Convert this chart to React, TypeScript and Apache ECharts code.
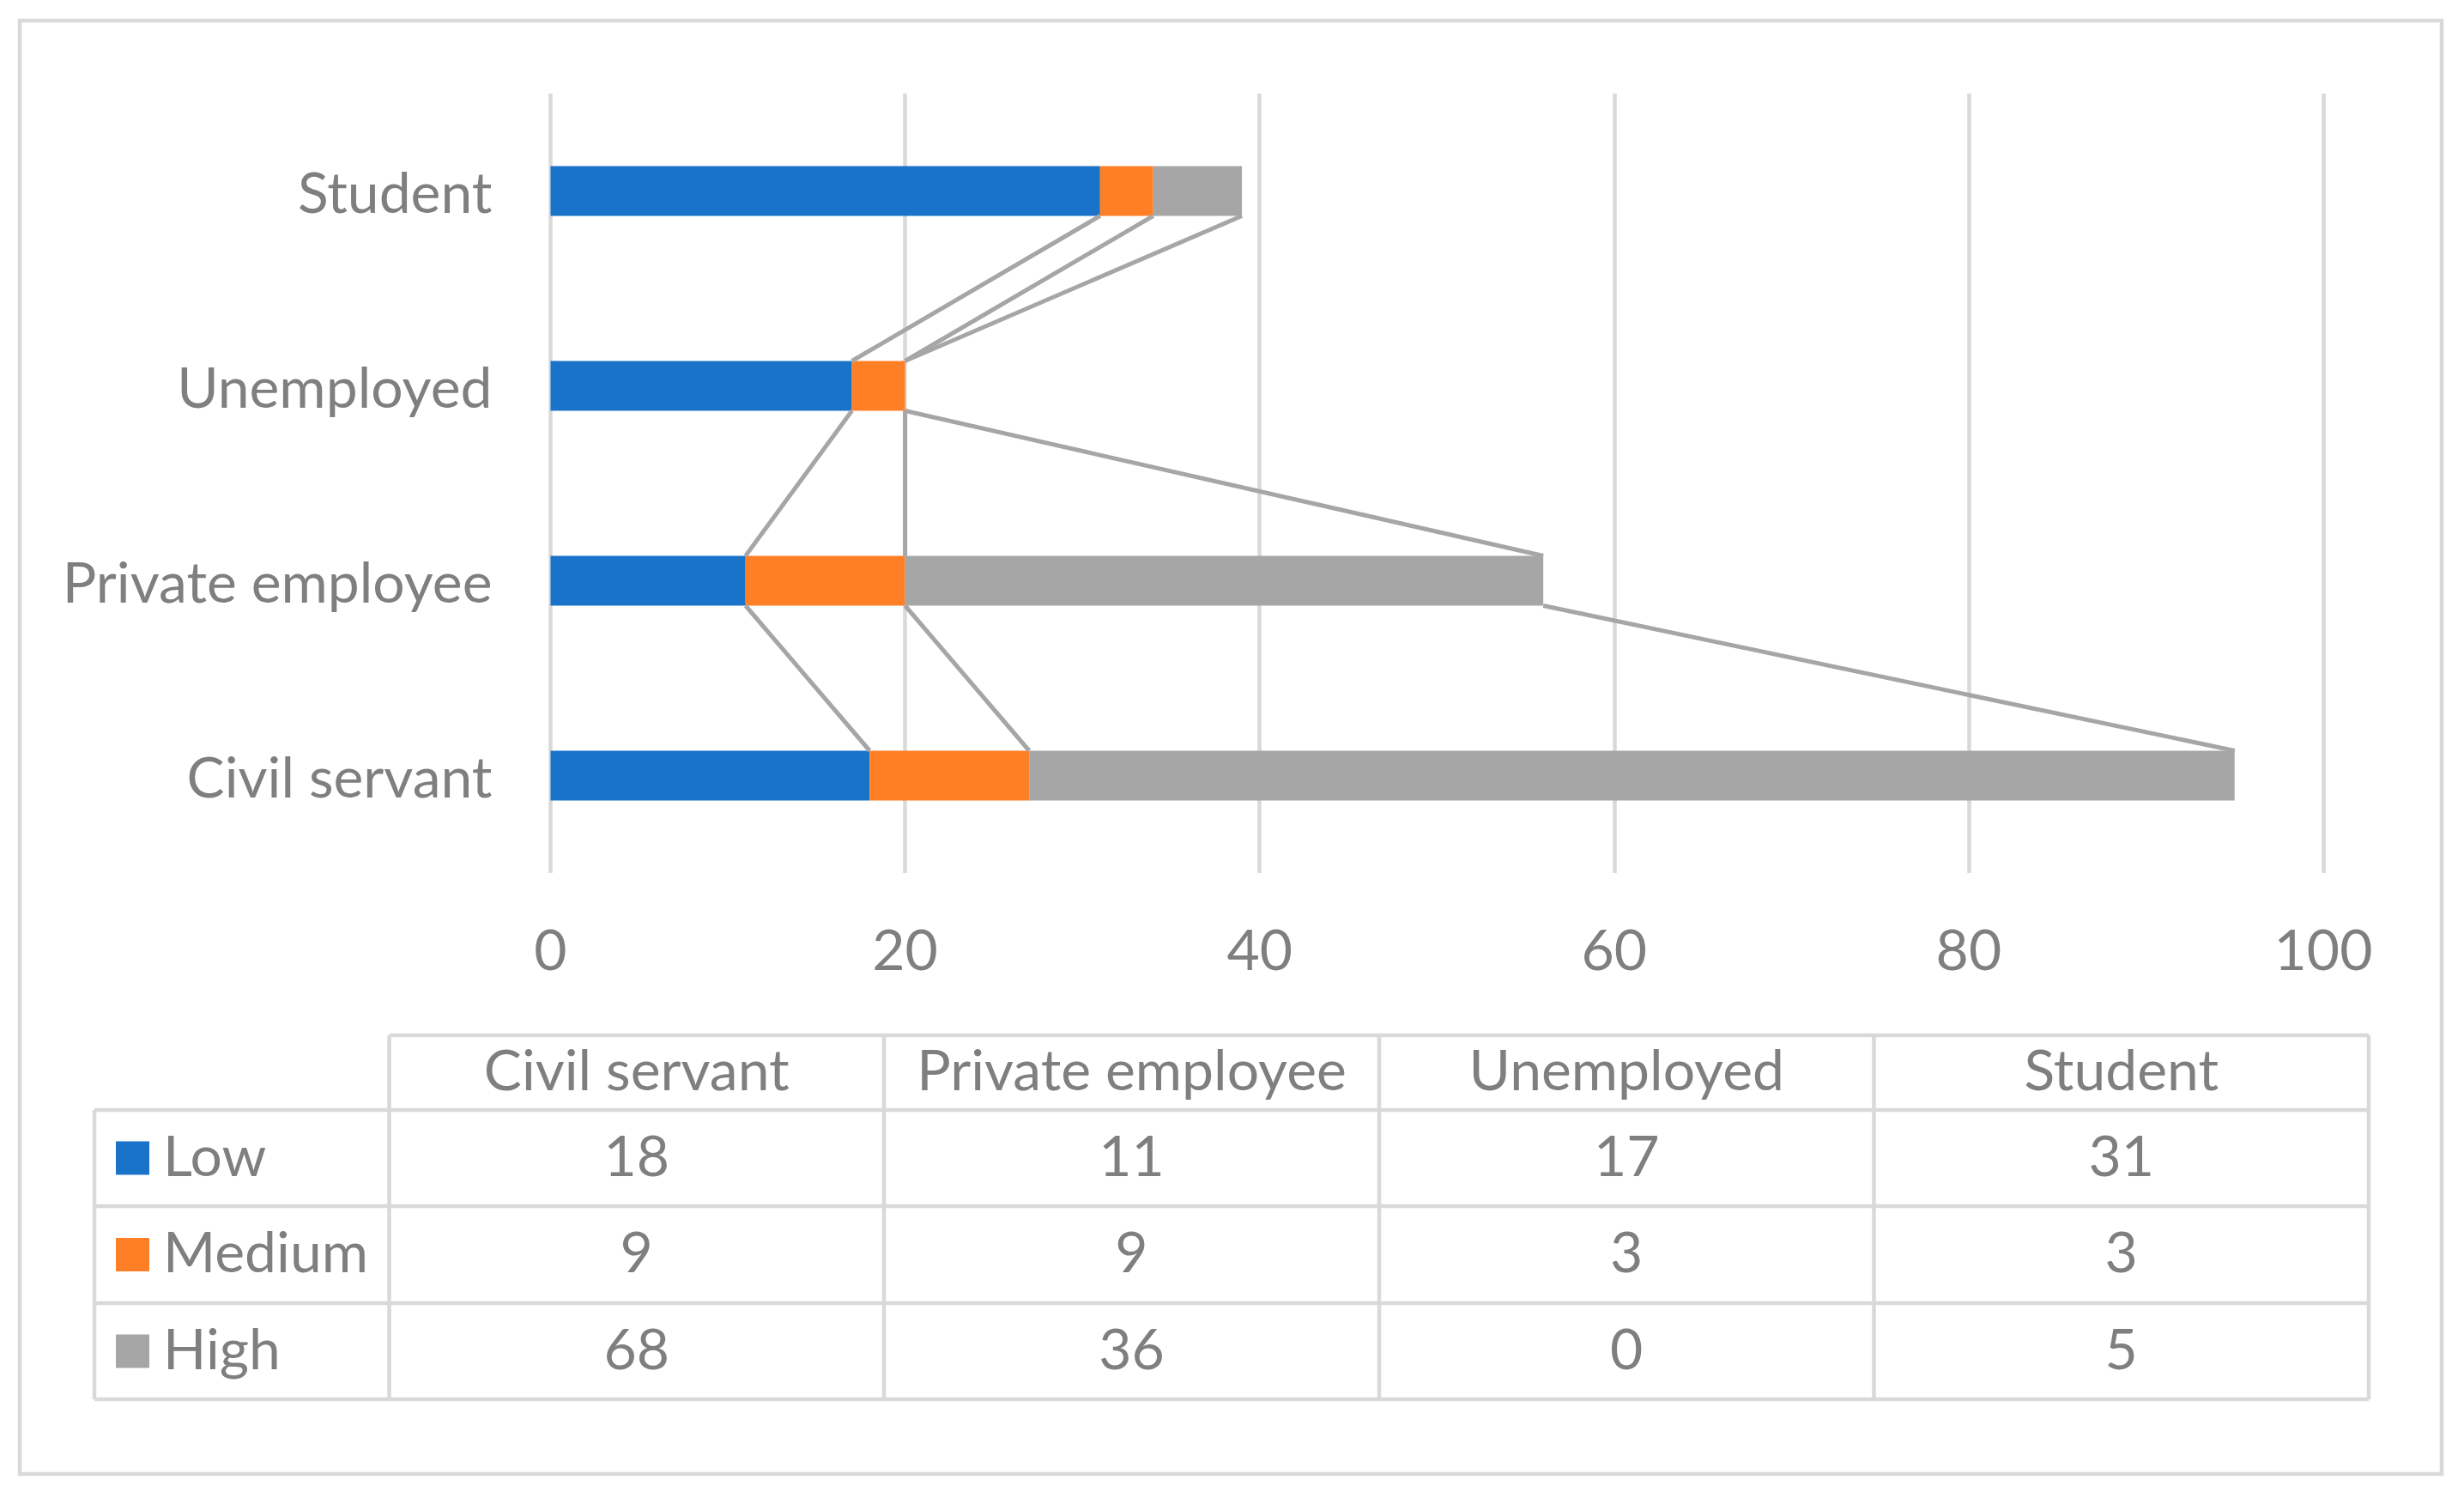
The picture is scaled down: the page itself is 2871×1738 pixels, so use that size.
import React, { useEffect, useRef } from "react";
import * as echarts from "echarts";

const categories = ["Civil servant", "Private employee", "Unemployed", "Student"];
const seriesNames = ["Low", "Medium", "High"];
const lowValues = [18, 11, 17, 31];
const mediumValues = [9, 9, 3, 3];
const highValues = [68, 36, 0, 5];
const seriesColors = ["#1873C9", "#FE7F26", "#A6A6A6"];

const FONT = "Lato, 'Open Sans', sans-serif";
const TEXT_COLOR = "#7F7F7F";
const LINE_COLOR = "#D9D9D9";
const FONT_SIZE = 66;
const BAR_W = 58;
const TEXT_DY = -5;

export default function App() {
  const ref = useRef<HTMLDivElement>(null);
  useEffect(() => {
    if (!ref.current) return;
    const chart = echarts.init(ref.current, undefined, { renderer: "svg" });
    const allSeries = [lowValues, mediumValues, highValues];

    // cumulative ends for series lines
    const cum: number[][] = allSeries.map((_, s) =>
      categories.map((__, c) => {
        let t = 0;
        for (let k = 0; k <= s; k++) t += allSeries[k][c];
        return t;
      })
    );
    const seriesLineData: number[][] = [];
    for (let i = 0; i < categories.length - 1; i++) {
      for (let s = 0; s < seriesNames.length; s++) {
        seriesLineData.push([cum[s][i + 1], i + 1, cum[s][i], i]);
      }
    }

    // table layout
    const colX = [453.5, 1030, 1607, 2183.5, 2760];
    const rowY = [1206, 1293, 1405, 1518, 1630];
    const leftX = 110;
    const graphics: any[] = [];
    graphics.push({
      type: "rect",
      shape: { x: 23, y: 24, width: 2822, height: 1693 },
      style: { fill: "none", stroke: LINE_COLOR, lineWidth: 4.5 },
      silent: true,
    });
    const hl = (x1: number, x2: number, y: number) =>
      graphics.push({ type: "line", shape: { x1, y1: y, x2, y2: y }, style: { stroke: LINE_COLOR, lineWidth: 4.5 } });
    const vl = (x: number, y1: number, y2: number) =>
      graphics.push({ type: "line", shape: { x1: x, y1, x2: x, y2 }, style: { stroke: LINE_COLOR, lineWidth: 4.5 } });
    hl(colX[0], colX[4], rowY[0]);
    for (let r = 1; r < rowY.length; r++) hl(leftX, colX[4], rowY[r]);
    vl(leftX, rowY[1], rowY[4]);
    colX.forEach((x) => vl(x, rowY[0], rowY[4]));
    categories.forEach((c, i) => {
      graphics.push({
        type: "text",
        x: (colX[i] + colX[i + 1]) / 2,
        y: (rowY[0] + rowY[1]) / 2 + TEXT_DY,
        style: { text: c, fill: TEXT_COLOR, font: `${FONT_SIZE}px ${FONT}`, textAlign: "center", textVerticalAlign: "middle" },
      });
    });
    seriesNames.forEach((n, s) => {
      const cy = (rowY[s + 1] + rowY[s + 2]) / 2;
      graphics.push({
        type: "rect",
        shape: { x: 135, y: cy - 19.5, width: 39, height: 39 },
        style: { fill: seriesColors[s] },
      });
      graphics.push({
        type: "text",
        x: 190,
        y: cy + TEXT_DY,
        style: { text: n, fill: TEXT_COLOR, font: `${FONT_SIZE}px ${FONT}`, textAlign: "left", textVerticalAlign: "middle" },
      });
      allSeries[s].forEach((v, i) => {
        graphics.push({
          type: "text",
          x: (colX[i] + colX[i + 1]) / 2,
          y: cy + TEXT_DY,
          style: { text: String(v), fill: TEXT_COLOR, font: `${FONT_SIZE}px ${FONT}`, textAlign: "center", textVerticalAlign: "middle" },
        });
      });
    });

    chart.setOption({
      animation: false,
      backgroundColor: "#FFFFFF",
      grid: { left: 641.5, right: 2871 - 2707, top: 109, bottom: 1738 - 1017, containLabel: false },
      xAxis: {
        type: "value",
        min: 0,
        max: 100,
        interval: 20,
        axisLine: { show: false },
        axisTick: { show: false },
        splitLine: { show: true, lineStyle: { color: LINE_COLOR, width: 4.5 } },
        axisLabel: { color: TEXT_COLOR, fontSize: FONT_SIZE, fontFamily: FONT, margin: 54 },
      },
      yAxis: {
        type: "category",
        data: categories,
        axisLine: { show: false },
        axisTick: { show: false },
        axisLabel: {
          color: TEXT_COLOR,
          fontSize: FONT_SIZE,
          fontFamily: FONT,
          margin: 68,
          lineHeight: 66,
          padding: [0, 0, 14, 0],
        },
      },
      series: [
        ...seriesNames.map((n, s) => ({
          name: n,
          type: "bar",
          stack: "total",
          barWidth: BAR_W,
          data: allSeries[s],
          itemStyle: { color: seriesColors[s] },
        })),
        {
          type: "custom",
          coordinateSystem: "cartesian2d",
          encode: { x: [0, 2], y: [1, 3] },
          data: seriesLineData,
          z: 5,
          renderItem: (params: any, api: any) => {
            const a = api.coord([api.value(0), api.value(1)]);
            const b = api.coord([api.value(2), api.value(3)]);
            return {
              type: "line",
              shape: { x1: a[0], y1: a[1] + BAR_W / 2, x2: b[0], y2: b[1] - BAR_W / 2 },
              style: { stroke: "#A6A6A6", lineWidth: 5 },
            };
          },
        },
      ],
      graphic: graphics,
    });
    return () => chart.dispose();
  }, []);
  return (
    <div
      ref={ref}
      style={{ position: "absolute", left: 0, top: 0, width: 2871, height: 1738 }}
    />
  );
}
